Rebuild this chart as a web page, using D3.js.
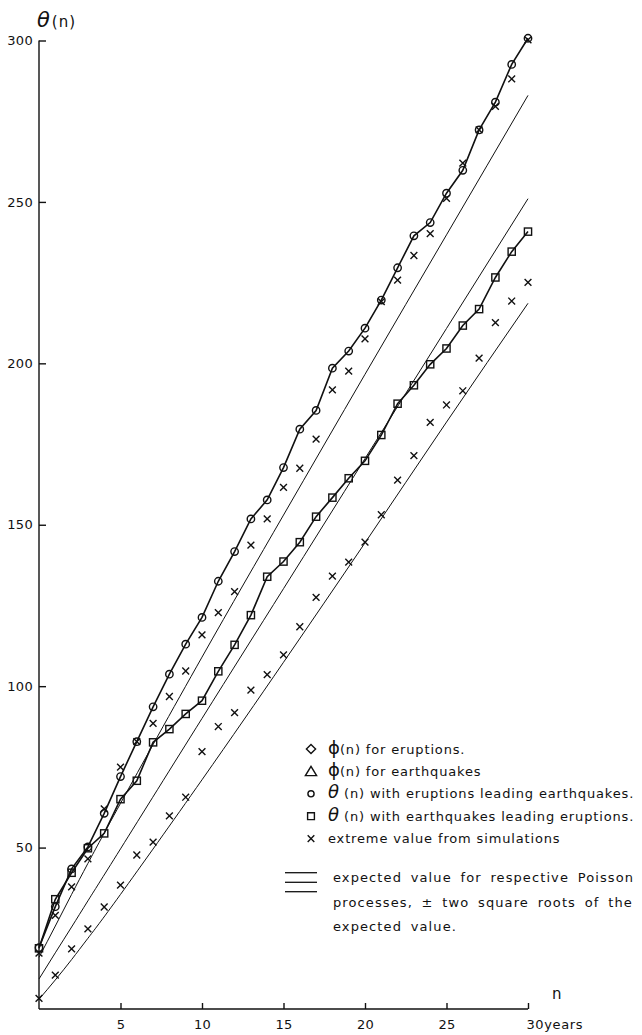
<!DOCTYPE html>
<html>
<head>
<meta charset="utf-8">
<title>theta(n) against n</title>
<script src="https://cdn.jsdelivr.net/npm/d3@7"></script>
<style>
  body { margin: 0; background: #fff; }
  svg { display: block; }
  text { font-family: "DejaVu Sans", sans-serif; fill: #111; }
  .axis path, .axis line { stroke: #111; stroke-width: 1.4px; }
  .axis text { font-size: 13px; font-family: "DejaVu Sans", sans-serif; fill: #111; letter-spacing: 0.3px; }
  .guide { fill: none; stroke: #111; stroke-width: 1px; }
  .series { fill: none; stroke: #111; stroke-width: 1.6px; }
  .mark { fill: none; stroke: #111; stroke-width: 1.4px; }
  .legend text { font-size: 13px; letter-spacing: 0.85px; }
  .legend text.note { letter-spacing: 1.1px; word-spacing: 3.5px; }
</style>
</head>
<body>
<svg width="642" height="1035"></svg>
<script>
// n (years)
const years = [0,1,2,3,4,5,6,7,8,9,10,11,12,13,14,15,16,17,18,19,20,21,22,23,24,25,26,27,28,29,30];

// theta(n) with eruptions leading earthquakes (circles)
const thetaErupt = [19, 31.7, 43.4, 50.2, 60.6, 72, 82.8, 93.6, 103.7, 113, 121.3, 132.5, 141.7, 151.8, 157.7,
  167.7, 179.6, 185.4, 198.5, 203.8, 210.9, 219.6, 229.6, 239.5, 243.6, 252.7, 259.8, 272.3, 280.9, 292.6, 300.7];

// theta(n) with earthquakes leading eruptions (squares)
const thetaQuake = [18.8, 34, 42.2, 49.8, 54.4, 65, 70.7, 82.6, 86.7, 91.4, 95.5, 104.6, 112.8, 122, 133.9,
  138.6, 144.6, 152.5, 158.4, 164.4, 169.8, 177.8, 187.5, 193.2, 199.7, 204.6, 211.7, 216.8, 226.6, 234.6, 240.8];

// extreme values from simulations (crosses)
const extremeHigh = [17.3, 29, 37.8, 46.5, 62, 74.9, 82.8, 88.5, 96.8, 104.7, 115.9, 122.8, 129.3, 143.7, 151.8,
  161.6, 167.5, 176.5, 191.8, 197.6, 207.6, 219.1, 225.8, 233.4, 240.2, 251.1, 262, 272.3, 279.6, 288.1, 300.2];
const extremeLow = [3.3, 10.5, 18.6, 24.8, 31.6, 38.4, 47.7, 51.7, 59.8, 65.6, 79.7, 87.5, 91.8, 98.8, 103.6,
  109.7, 118.4, 127.5, 134.1, 138.4, 144.6, 153.1, 163.8, 171.4, 181.7, 187.1, 191.5, 201.6, 212.6, 219.3, 225.1];

// Poisson expected value and +/- two square roots
const guideYears = [0, 1, 2, 3, 5, 10, 15, 20, 25, 30];
const poissonPlus  = [16, 25.7, 35.5, 45.1, 63.7, 109, 153, 196.6, 239.8, 283];
const poissonMean  = [9.3, 17.4, 25.4, 33.5, 49.6, 90, 130.2, 170.5, 210.8, 251];
const poissonMinus = [3, 9, 15.3, 21.9, 35.5, 71, 107.4, 144.4, 181.8, 218.6];

const yTicks = [50, 100, 150, 200, 250, 300];
const xTicks = [5, 10, 15, 20, 25, 30];

const legendLabels = [
  ["\u03D5", "(n) for eruptions."],
  ["\u03D5", "(n) for earthquakes"],
  ["\u03B8", " (n) with eruptions leading earthquakes."],
  ["\u03B8", " (n) with earthquakes leading eruptions."],
  ["", "extreme value from simulations"]
];
const legendSymbols = ["diamond", "triangle", "circle", "square", "cross"];
const poissonNote = ["expected value for respective Poisson",
  "processes, \u00B1 two square roots of the",
  "expected value."];

const svg = d3.select("svg");
const x = d3.scaleLinear().domain([0, 30]).range([39, 528]);
const y = d3.scaleLinear().domain([0, 300]).range([1009, 40.5]);

// axes
const yAxis = svg.append("g").attr("class", "axis")
  .attr("transform", `translate(${x(0)},0)`)
  .call(d3.axisLeft(y).tickValues(yTicks).tickSize(-7).tickPadding(6).tickSizeOuter(0));
const xAxis = svg.append("g").attr("class", "axis")
  .attr("transform", `translate(0,${y(0)})`)
  .call(d3.axisBottom(x).tickValues(xTicks).tickSize(-6).tickPadding(11).tickSizeOuter(0));
yAxis.select(".domain").attr("d", `M0,${y(0)}V${y(300)}`);
xAxis.select(".domain").attr("d", `M${x(0)},0H${x(30)}`);
xAxis.selectAll(".tick text").filter(d => d === 30)
  .text("30years").attr("text-anchor", "start").attr("x", -2).style("letter-spacing", "0.6px");

svg.append("text").attr("x", 37).attr("y", 27)
  .call(t => t.append("tspan").text("\u03B8").style("font-size", "21px").style("font-style", "italic"))
  .call(t => t.append("tspan").text("(n)").style("font-size", "15px").style("letter-spacing", "1px").attr("dx", 2));
svg.append("text").attr("x", 552).attr("y", 999).text("n").style("font-size", "15px");

// Poisson guide curves
const guideLine = vals => d3.line()
  .x((d, i) => x(guideYears[i]))
  .y((d, i) => y(vals[i]))
  .curve(d3.curveNatural)(vals);
[poissonPlus, poissonMean, poissonMinus].forEach(vals => {
  svg.append("path").attr("class", "guide").attr("d", guideLine(vals));
});

// connected series
const seriesLine = d3.line().x((d, i) => x(years[i])).y(d => y(d));
svg.append("path").attr("class", "series").attr("d", seriesLine(thetaErupt));
svg.append("path").attr("class", "series").attr("d", seriesLine(thetaQuake));

// markers
const crossPath = s => `M${-s},${-s}L${s},${s}M${-s},${s}L${s},${-s}`;
svg.append("g").selectAll("circle").data(thetaErupt).join("circle")
  .attr("class", "mark").attr("cx", (d, i) => x(years[i])).attr("cy", d => y(d)).attr("r", 3.7);
svg.append("g").selectAll("rect").data(thetaQuake).join("rect")
  .attr("class", "mark").attr("x", (d, i) => x(years[i]) - 3.6).attr("y", d => y(d) - 3.6)
  .attr("width", 7.2).attr("height", 7.2);
[extremeHigh, extremeLow].forEach(vals => {
  svg.append("g").selectAll("path").data(vals).join("path")
    .attr("class", "mark")
    .attr("transform", (d, i) => `translate(${x(years[i])},${y(d)})`)
    .attr("d", crossPath(3.4));
});

// legend
const legend = svg.append("g").attr("class", "legend");
const symbolPath = {
  diamond: "M0,-4.6L4.6,0L0,4.6L-4.6,0Z",
  triangle: "M0,-5L5.6,4.2H-5.6Z",
  circle: d3.symbol(d3.symbolCircle, 30)(),
  square: "M-3.4,-3.4H3.4V3.4H-3.4Z",
  cross: crossPath(3.3)
};
legendLabels.forEach((lab, i) => {
  const cy = 749 + i * 22.4;
  legend.append("path").attr("class", "mark")
    .attr("transform", `translate(311,${cy})`)
    .attr("d", symbolPath[legendSymbols[i]]);
  const t = legend.append("text").attr("x", 328).attr("y", cy + 4.5);
  if (lab[0]) {
    t.append("tspan").text(lab[0]).style("font-size", "18px")
      .style("font-style", lab[0] === "\u03B8" ? "italic" : "normal").style("letter-spacing", "0");
  }
  t.append("tspan").text(lab[1]);
});
[872.7, 882.3, 891.7].forEach(ly => {
  legend.append("line").attr("x1", 285).attr("x2", 317).attr("y1", ly).attr("y2", ly)
    .attr("stroke", "#111").attr("stroke-width", 1.3);
});
poissonNote.forEach((s, i) => {
  legend.append("text").attr("class", "note").attr("x", 333).attr("y", 882 + i * 24.5).text(s);
});
</script>
</body>
</html>
